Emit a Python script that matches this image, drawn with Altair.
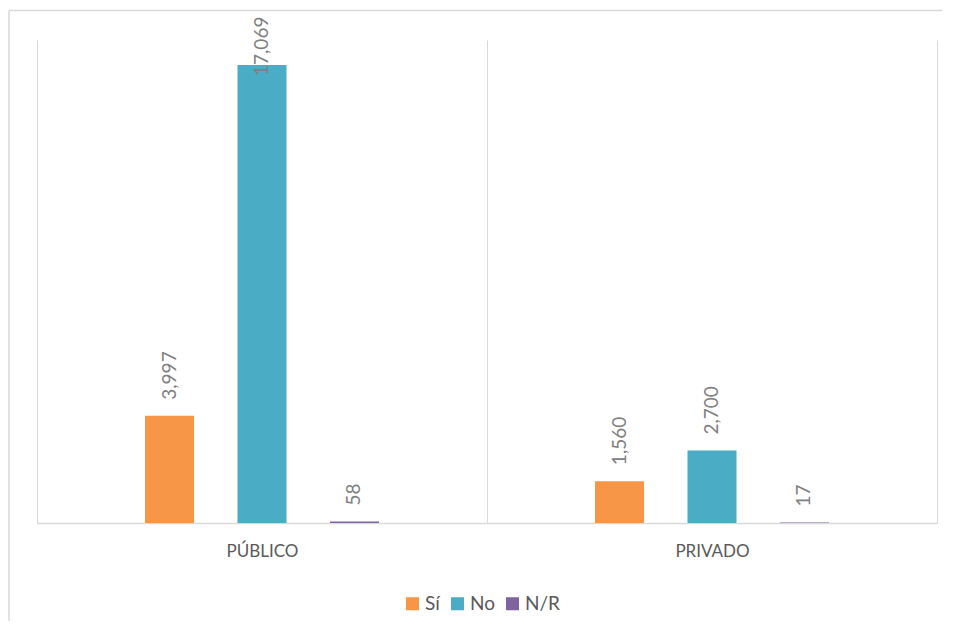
import altair as alt
import pandas as pd

categories = ["PÚBLICO", "PRIVADO"]
series = ["Sí", "No", "N/R"]
publico = [3997, 17069, 58]
privado = [1560, 2700, 17]
colors = ["#F79646", "#4BACC6", "#8064A2"]

rows = []
for cat, vals in zip(categories, [publico, privado]):
    for s, v in zip(series, vals):
        rows.append({"sector": cat, "respuesta": s, "valor": v})
df = pd.DataFrame(rows)

FONT = "Lato"

x = alt.X(
    "sector:N",
    sort=categories,
    scale=alt.Scale(paddingInner=0, paddingOuter=0),
    axis=alt.Axis(
        title=None, labelAngle=0, ticks=False, domain=True,
        domainColor="#d9d9d9", domainWidth=1.5,
        grid=True, gridColor="#d9d9d9", gridWidth=1, tickBand="extent",
        labelPadding=20, labelFontSize=17, labelColor="#595959", labelFont=FONT,
    ),
)
y = alt.Y("valor:Q", scale=alt.Scale(domain=[0, 18000], nice=False), axis=None)
xo = alt.XOffset(
    "respuesta:N", sort=series,
    scale=alt.Scale(range=[108, 342], paddingInner=0.47, paddingOuter=0),
)

base = alt.Chart(df)

bars = base.mark_bar().encode(
    x=x, y=y, xOffset=xo,
    color=alt.Color(
        "respuesta:N", sort=series,
        scale=alt.Scale(domain=series, range=colors),
        legend=alt.Legend(
            title=None, orient="none", legendX=366, legendY=554,
            direction="horizontal", symbolType="square", symbolSize=170,
            symbolStrokeWidth=0, labelFontSize=19, labelColor="#595959",
            labelFont=FONT, columnPadding=8, labelOffset=3,
        ),
    ),
)

labels = base.transform_filter("datum.valor < 15000").mark_text(
    angle=270, align="left", baseline="middle", dx=16,
    fontSize=19, color="#808080", font=FONT,
).encode(x=x, y=y, xOffset=xo, text=alt.Text("valor:Q", format=","))

top_label = base.transform_filter("datum.valor >= 15000").mark_text(
    angle=270, align="left", baseline="middle", dx=-11,
    fontSize=19, color="#808080", font=FONT,
).encode(x=x, y=y, xOffset=xo, text=alt.Text("valor:Q", format=","))

frame = alt.Chart(pd.DataFrame({"k": [0]}))
border_top = frame.mark_rule(color="#d9d9d9", strokeWidth=1.5).encode(
    x=alt.value(-28), x2=alt.value(1000), y=alt.value(-29.5),
)
border_left = frame.mark_rule(color="#d9d9d9", strokeWidth=1.5).encode(
    x=alt.value(-28), y=alt.value(-29.5), y2=alt.value(700),
)

chart = alt.layer(border_top, border_left, bars, labels, top_label).properties(
    width=900, height=483,
    autosize=alt.AutoSizeParams(type="none"),
    padding={"left": 29, "top": 32, "right": 5, "bottom": 98},
).configure_view(stroke=None)

chart.save("out.html", embed_options={"renderer": "svg", "actions": False})
